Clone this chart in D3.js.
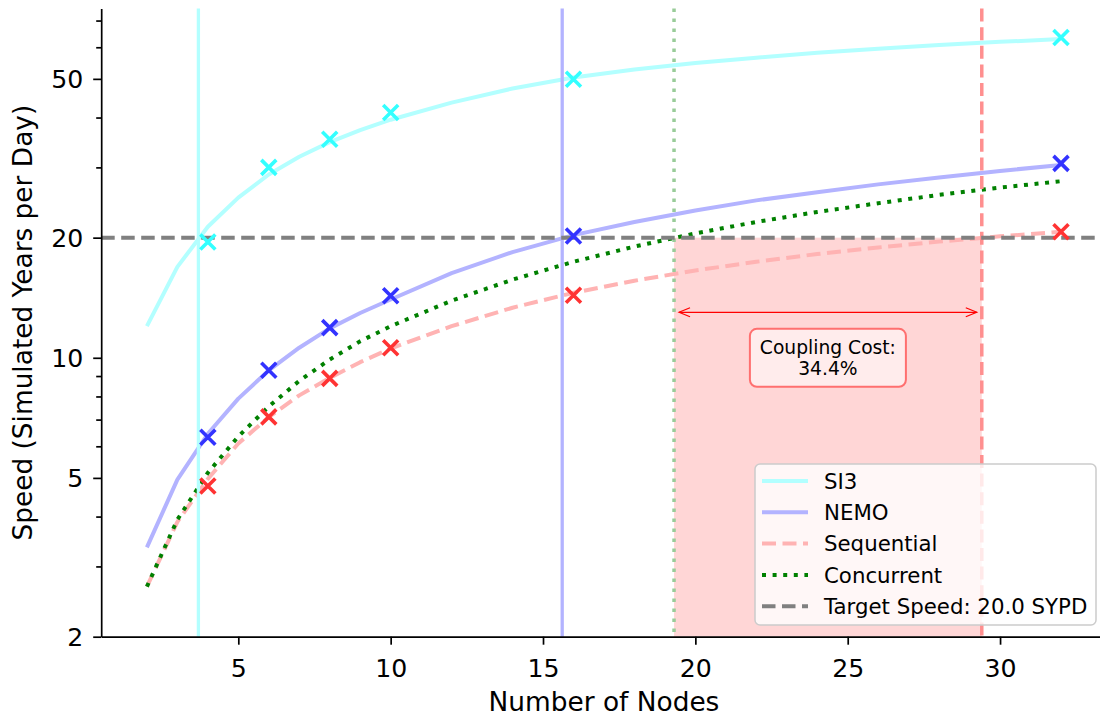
<!DOCTYPE html>
<html>
<head>
<meta charset="utf-8">
<script src="https://cdn.jsdelivr.net/npm/d3@7/dist/d3.min.js"></script>
<style>
  html, body { margin: 0; padding: 0; background: #fff; }
  svg { display: block; font-family: "DejaVu Sans", sans-serif; }
</style>
</head>
<body>
<svg id="chart" width="1100" height="717"></svg>
<script>
// ---------- data ----------
const curveNodes   = [2, 3, 4, 5, 6, 7, 8, 9, 10, 12, 14, 16, 18, 20, 22, 24, 26, 28, 30, 32];
const si3Curve     = [12.0, 16.9, 21.3, 25.2, 28.8, 31.9, 34.7, 37.2, 39.5, 43.6, 47.3, 50.4, 52.8, 54.8, 56.5, 58.1, 59.5, 60.8, 61.9, 62.9];
const nemoCurve    = [3.35, 4.95, 6.45, 7.9, 9.3, 10.6, 11.85, 12.95, 14.0, 16.3, 18.4, 20.3, 21.9, 23.4, 24.8, 26.0, 27.2, 28.3, 29.4, 30.4];
const seqCurve     = [2.67, 3.88, 4.97, 6.1, 7.1, 8.05, 8.9, 9.75, 10.55, 12.0, 13.35, 14.55, 15.6, 16.55, 17.4, 18.2, 18.9, 19.55, 20.15, 20.7];
const concCurve    = [2.67, 3.93, 5.15, 6.35, 7.55, 8.75, 9.9, 11.0, 12.0, 13.9, 15.7, 17.4, 19.0, 20.5, 21.9, 23.2, 24.4, 25.6, 26.7, 27.7];

const measuredNodes = [4, 6, 8, 10, 16, 32];
const si3Measured   = [19.5, 30.0, 35.3, 41.2, 49.9, 63.5];
const nemoMeasured  = [6.32, 9.31, 11.9, 14.3, 20.2, 30.7];
const seqMeasured   = [4.77, 7.11, 8.88, 10.6, 14.35, 20.7];

const targetSpeed = 20.0;
const si3NodesAtTarget  = 3.69;
const nemoNodesAtTarget = 15.63;
const concNodesAtTarget = 19.3;
const seqNodesAtTarget  = 29.4;
const couplingCostLabel = ["Coupling Cost:", "34.4%"];

const xTicks = [5, 10, 15, 20, 25, 30];
const yTicks = [2, 5, 10, 20, 50];
const yMinorTicks = [3, 4, 6, 7, 8, 9, 30, 40, 60, 70];
const legendLabels = ["SI3", "NEMO", "Sequential", "Concurrent", "Target Speed: 20.0 SYPD"];
const xLabel = "Number of Nodes";
const yLabel = "Speed (Simulated Years per Day)";

// ---------- scales ----------
const svg = d3.select("#chart");
const x = d3.scaleLinear().domain([0.5, 33.5]).range([101.2, 1106.7]);
const y = d3.scaleLog().domain([2, 75]).range([636.7, 8.6]);
const x0 = x.range()[0], x1 = x.range()[1];
const yBot = y.range()[0], yTop = y.range()[1];

const styles = {
  si3:  {line: "#b3ffff", marker: "#33ffff", dash: null, width: 4},
  nemo: {line: "#b3b3ff", marker: "#3333ff", dash: null, width: 4},
  seq:  {line: "#ffb3b3", marker: "#ff3333", dash: "14,6.5", width: 4},
  conc: {line: "#008000", dash: "4,6.6", width: 4},
  target: {line: "#808080", dash: "13.5,6.5", width: 4}
};

const plot = svg.append("g");

// shaded coupling-cost region
plot.append("rect")
  .attr("x", x(concNodesAtTarget))
  .attr("y", y(targetSpeed))
  .attr("width", x(seqNodesAtTarget) - x(concNodesAtTarget))
  .attr("height", yBot - y(targetSpeed))
  .attr("fill", "#ff0000").attr("fill-opacity", 0.16);

// curves
const line = (ys) => d3.line().x((d, i) => x(curveNodes[i])).y((d) => y(d))(ys);
function drawCurve(vals, st) {
  const p = plot.append("path").attr("d", line(vals))
    .attr("fill", "none").attr("stroke", st.line).attr("stroke-width", st.width)
    .attr("stroke-linejoin", "round");
  if (st.dash) p.attr("stroke-dasharray", st.dash);
}
drawCurve(si3Curve, styles.si3);
drawCurve(nemoCurve, styles.nemo);
drawCurve(seqCurve, styles.seq);
drawCurve(concCurve, styles.conc);

// vertical marker lines
function vline(v, color, dash, w) {
  const l = plot.append("line").attr("x1", x(v)).attr("x2", x(v)).attr("y1", yTop).attr("y2", yBot)
    .attr("stroke", color).attr("stroke-width", w);
  if (dash) l.attr("stroke-dasharray", dash);
}
vline(si3NodesAtTarget, "#b3ffff", null, 3.3);
vline(nemoNodesAtTarget, "#b3b3ff", null, 3.3);
vline(concNodesAtTarget, "#99cc99", "3.5,6.5", 3.5);
vline(seqNodesAtTarget, "#ff8f8f", "13,5.6", 3.5);

// target line
plot.append("line").attr("x1", x0).attr("x2", x1).attr("y1", y(targetSpeed)).attr("y2", y(targetSpeed))
  .attr("stroke", styles.target.line).attr("stroke-width", styles.target.width)
  .attr("stroke-dasharray", styles.target.dash);

// measured markers
function crosses(vals, color) {
  plot.append("g").selectAll("path").data(vals).join("path")
    .attr("transform", (d, i) => `translate(${x(measuredNodes[i])},${y(d)})`)
    .attr("d", "M-7.5,-7.5L7.5,7.5M-7.5,7.5L7.5,-7.5")
    .attr("stroke", color).attr("stroke-width", 3.6).attr("fill", "none");
}
crosses(si3Measured, styles.si3.marker);
crosses(nemoMeasured, styles.nemo.marker);
crosses(seqMeasured, styles.seq.marker);

// arrow annotation
const arrowY = y(targetSpeed * 0.65);
const ax0 = x(concNodesAtTarget) + 5, ax1 = x(seqNodesAtTarget) - 5;
const ann = plot.append("g").attr("stroke", "#ff0000").attr("stroke-width", 1.2).attr("fill", "none");
ann.append("line").attr("x1", ax0).attr("x2", ax1).attr("y1", arrowY).attr("y2", arrowY);
ann.append("path").attr("d", `M${ax0 + 11},${arrowY - 4.5}L${ax0},${arrowY}L${ax0 + 11},${arrowY + 4.5}`);
ann.append("path").attr("d", `M${ax1 - 11},${arrowY - 4.5}L${ax1},${arrowY}L${ax1 - 11},${arrowY + 4.5}`);

// coupling cost box
const bx = (x(concNodesAtTarget) + x(seqNodesAtTarget)) / 2;
const by = y(targetSpeed * 0.5);
plot.append("rect").attr("x", bx - 78).attr("y", by - 29).attr("width", 156).attr("height", 58)
  .attr("rx", 7).attr("fill", "#ffffff").attr("fill-opacity", 0.55)
  .attr("stroke", "#ff6f6f").attr("stroke-width", 2);
plot.append("text").attr("x", bx).attr("y", by - 10.5).attr("text-anchor", "middle")
  .attr("font-size", 18.7).attr("dy", "0.35em").text(couplingCostLabel[0]);
plot.append("text").attr("x", bx).attr("y", by + 10.5).attr("text-anchor", "middle")
  .attr("font-size", 18.7).attr("dy", "0.35em").text(couplingCostLabel[1]);

// ---------- axes ----------
const xAxis = svg.append("g").attr("transform", `translate(0,${yBot})`)
  .call(d3.axisBottom(x).tickValues(xTicks).tickSize(8).tickSizeOuter(0).tickFormat(d3.format("d")));
xAxis.selectAll("text").attr("y", 40).attr("dy", null);

const yAxis = svg.append("g").attr("transform", `translate(${x0},0)`)
  .call(d3.axisLeft(y).tickValues(yTicks).tickSize(8).tickSizeOuter(0).tickFormat(d3.format("d")));
yAxis.selectAll("text").attr("x", -18).attr("dy", "0.36em");
const yMinor = svg.append("g").attr("transform", `translate(${x0},0)`)
  .call(d3.axisLeft(y).tickValues(yMinorTicks).tickSize(5).tickSizeOuter(0).tickFormat(""));
yMinor.select(".domain").remove();

[xAxis, yAxis, yMinor].forEach(g => {
  g.attr("font-family", "DejaVu Sans, sans-serif").attr("font-size", 25.2);
  g.selectAll("text").attr("fill", "#000");
  g.selectAll("line").attr("stroke", "#000").attr("stroke-width", 1.7);
  g.selectAll(".domain").attr("stroke", "#000").attr("stroke-width", 1.7);
});

svg.append("text").attr("x", (x0 + x1) / 2).attr("y", 711).attr("text-anchor", "middle")
  .attr("font-size", 26.4).text(xLabel);
svg.append("text").attr("transform", `translate(32,${(yTop + yBot) / 2}) rotate(-90)`)
  .attr("text-anchor", "middle").attr("font-size", 26.4).text(yLabel);

// ---------- legend ----------
const lg = svg.append("g");
lg.append("rect").attr("x", 755).attr("y", 464).attr("width", 341).attr("height", 161).attr("rx", 5)
  .attr("fill", "#ffffff").attr("fill-opacity", 0.8).attr("stroke", "#cccccc").attr("stroke-width", 1.5);
const legendStyles = [styles.si3, styles.nemo, styles.seq, styles.conc, styles.target];
legendLabels.forEach((lab, i) => {
  const yy = 481 + i * 31.3;
  const st = legendStyles[i];
  const l = lg.append("line").attr("x1", 762).attr("x2", 808).attr("y1", yy).attr("y2", yy)
    .attr("stroke", st.line).attr("stroke-width", st.width);
  if (st.dash) l.attr("stroke-dasharray", st.dash);
  lg.append("text").attr("x", 824).attr("y", yy).attr("dy", "0.36em").attr("font-size", 21.3).text(lab);
});
</script>
</body>
</html>
